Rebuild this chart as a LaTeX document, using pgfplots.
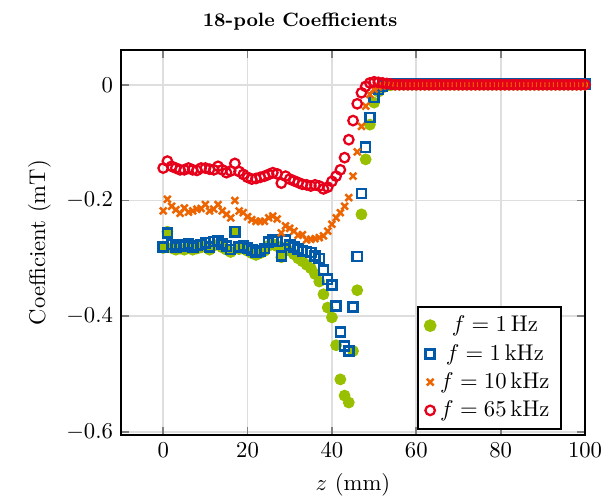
\documentclass[border=0pt]{standalone}
\usepackage{pgfplots}
\pgfplotsset{compat=1.18}
\usepackage{pgfplotstable}

\definecolor{tugreen}{RGB}{153,192,0}
\definecolor{tublue}{RGB}{0,90,169}
\definecolor{tuorange}{RGB}{236,101,0}
\definecolor{tured}{RGB}{230,0,26}

% z (mm), 1 Hz, 1 kHz, 10 kHz, 65 kHz  (mT)
\pgfplotstableread{
z g b o r
0 -0.282 -0.280 -0.218 -0.144
1 -0.254 -0.256 -0.198 -0.132
2 -0.282 -0.276 -0.210 -0.141
3 -0.285 -0.280 -0.216 -0.144
4 -0.283 -0.276 -0.222 -0.147
5 -0.285 -0.279 -0.213 -0.147
6 -0.281 -0.275 -0.220 -0.144
7 -0.285 -0.280 -0.218 -0.147
8 -0.283 -0.278 -0.215 -0.148
9 -0.281 -0.276 -0.214 -0.144
10 -0.279 -0.273 -0.207 -0.144
11 -0.285 -0.280 -0.218 -0.146
12 -0.278 -0.271 -0.215 -0.147
13 -0.276 -0.270 -0.207 -0.141
14 -0.281 -0.275 -0.218 -0.147
15 -0.285 -0.279 -0.224 -0.152
16 -0.289 -0.285 -0.230 -0.149
17 -0.254 -0.254 -0.200 -0.136
18 -0.284 -0.280 -0.218 -0.150
19 -0.283 -0.278 -0.221 -0.155
20 -0.287 -0.282 -0.228 -0.160
21 -0.291 -0.286 -0.233 -0.163
22 -0.294 -0.290 -0.236 -0.162
23 -0.291 -0.287 -0.236 -0.160
24 -0.287 -0.283 -0.236 -0.158
25 -0.278 -0.272 -0.230 -0.155
26 -0.275 -0.268 -0.227 -0.152
27 -0.279 -0.271 -0.232 -0.154
28 -0.298 -0.296 -0.256 -0.170
29 -0.281 -0.268 -0.244 -0.158
30 -0.287 -0.277 -0.248 -0.163
31 -0.293 -0.280 -0.253 -0.166
32 -0.300 -0.284 -0.260 -0.169
33 -0.305 -0.287 -0.259 -0.172
34 -0.311 -0.288 -0.268 -0.173
35 -0.317 -0.290 -0.267 -0.175
36 -0.327 -0.296 -0.266 -0.173
37 -0.340 -0.300 -0.264 -0.175
38 -0.362 -0.320 -0.261 -0.180
39 -0.385 -0.336 -0.253 -0.177
40 -0.402 -0.346 -0.241 -0.167
41 -0.450 -0.382 -0.230 -0.158
42 -0.509 -0.427 -0.221 -0.147
43 -0.537 -0.451 -0.210 -0.126
44 -0.549 -0.460 -0.195 -0.095
45 -0.460 -0.384 -0.158 -0.062
46 -0.355 -0.297 -0.116 -0.033
47 -0.224 -0.188 -0.072 -0.014
48 -0.129 -0.108 -0.037 -0.003
49 -0.069 -0.057 -0.017 0.003
50 -0.031 -0.022 -0.008 0.005
51 -0.012 -0.008 -0.004 0.004
52 -0.005 -0.002 -0.002 0.003
53 -0.002 0.001 -0.001 0.002
54 -0.001 0.002 0.000 0.001
55 0 0.002 0 0
56 0 0.002 0 0
57 0 0.002 0 0
58 0 0.002 0 0
59 0 0.002 0 0
60 0 0.002 0 0
61 0 0.001 0 0
62 0 0.001 0 0
63 0 0.001 0 0
64 0 0.001 0 0
65 0 0.001 0 0
66 0 0.001 0 0
67 0 0.001 0 0
68 0 0.001 0 0
69 0 0.001 0 0
70 0 0.001 0 0
71 0 0.001 0 0
72 0 0.001 0 0
73 0 0.001 0 0
74 0 0.001 0 0
75 0 0.001 0 0
76 0 0.001 0 0
77 0 0.001 0 0
78 0 0.001 0 0
79 0 0.001 0 0
80 0 0.001 0 0
81 0 0.001 0 0
82 0 0.001 0 0
83 0 0.001 0 0
84 0 0.001 0 0
85 0 0.001 0 0
86 0 0.001 0 0
87 0 0.001 0 0
88 0 0.001 0 0
89 0 0.001 0 0
90 0 0.001 0 0
91 0 0.001 0 0
92 0 0.001 0 0
93 0 0.001 0 0
94 0 0.001 0 0
95 0 0.001 0 0
96 0 0.001 0 0
97 0 0.001 0 0
98 0 0.001 0 0
99 0 0.001 0 0
100 0 0.001 0 0
}\coeffs

\begin{document}
\begin{tikzpicture}
\begin{axis}[
    name=ax,
    scale only axis,
    width=204.4pt, height=169.6pt,
    xmin=-10, xmax=100,
    ymin=-0.605, ymax=0.06,
    xtick={0,20,...,100},
    ytick={-0.6,-0.4,-0.2,0},
    grid=major,
    grid style={line width=0.8pt, draw=black!13},
    axis line style={line width=0.8pt},
    tick align=inside,
    major tick length=3.5pt,
    tick style={line width=0.8pt, draw=black!50},
    title={\textbf{18-pole Coefficients}},
    title style={font=\fontsize{8.5}{10}\selectfont, at={(0.386,1)}, yshift=-1pt},
    xlabel={$z$ (mm)},
    ylabel={Coefficient (mT)},
    clip=false,
    legend cell align=center,
    legend style={at={(0.95,0.013)}, anchor=south east, draw=black, line width=0.8pt},
]
\addplot[only marks, mark=*, mark size=2.4pt, color=tugreen] table[x=z, y=g] {\coeffs};
\addlegendentry{$f = 1\,\mathrm{Hz}$}
\addplot[only marks, mark=square, mark size=2pt, line width=1.1pt, color=tublue] table[x=z, y=b] {\coeffs};
\addlegendentry{$f = 1\,\mathrm{kHz}$}
\addplot[only marks, mark=x, mark size=2.1pt, line width=1.1pt, color=tuorange] table[x=z, y=o] {\coeffs};
\addlegendentry{$f = 10\,\mathrm{kHz}$}
\addplot[only marks, mark=o, mark size=2.1pt, line width=1pt, color=tured] table[x=z, y=r] {\coeffs};
\addlegendentry{$f = 65\,\mathrm{kHz}$}
\end{axis}
\pgfresetboundingbox
\useasboundingbox ([shift={(-53.3pt,-28.6pt)}]ax.south west) rectangle ([shift={(13.2pt,22pt)}]ax.north east);
\end{tikzpicture}
\end{document}
